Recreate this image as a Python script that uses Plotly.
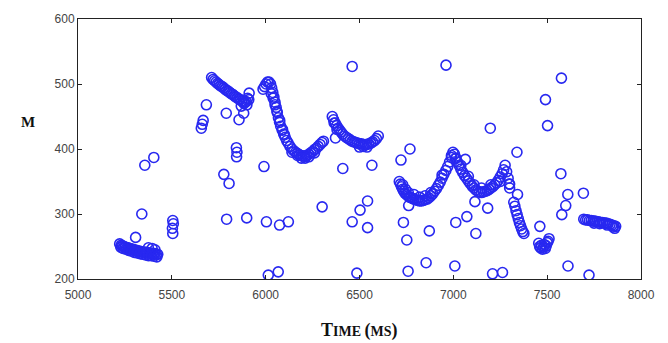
import plotly.graph_objects as go

# ---- data ----
cluster_a_x = [5222, 5230, 5238, 5245, 5252, 5260, 5268, 5275, 5282, 5290, 5298, 5305, 5312, 5320,
               5328, 5335, 5342, 5350, 5358, 5365, 5372, 5380, 5388, 5395, 5402, 5410, 5418, 5425,
               5228, 5240, 5255, 5270, 5285, 5300, 5315, 5330, 5345, 5360, 5375, 5390, 5405, 5420,
               5375, 5395, 5410]
cluster_a_y = [254, 252, 251, 250, 249, 248, 248, 247, 246, 246, 245, 244, 244, 243,
               243, 242, 242, 241, 241, 241, 240, 240, 240, 239, 239, 239, 238, 238,
               249, 247, 246, 244, 243, 241, 240, 239, 238, 237, 236, 236, 235, 234,
               248, 247, 245]

curve_b_x = [5712, 5720, 5728, 5736, 5744, 5752, 5760, 5768, 5776, 5784, 5792, 5800, 5808, 5816,
             5824, 5832, 5840, 5848, 5856, 5864, 5872, 5880, 5888, 5896, 5904, 5912,
             5870, 5885, 5900, 5910]
curve_b_y = [510, 507, 505, 503, 501, 499, 497, 496, 494, 492, 490, 489, 487, 485,
             484, 482, 480, 479, 477, 476, 474, 473, 472, 473, 478, 486,
             466, 470, 468, 476]

curve_c_x = [5986, 5994, 6002, 6010, 6018, 6026, 6032, 6038, 6044, 6050, 6056, 6062, 6068, 6074,
             6080, 6088, 6096, 6104, 6112, 6120, 6130, 6140, 6150, 6160, 6170, 6180, 6190, 6200,
             6210, 6220, 6230, 6240, 6250, 6260, 6270, 6280, 6290, 6300, 6308,
             6030, 6040, 6050, 6060, 6075, 6090, 6100, 6140, 6170, 6190, 6210, 6230, 6260]
curve_c_y = [492, 496, 500, 503, 503, 500, 494, 487, 480, 472, 464, 456, 448, 441,
             435, 429, 423, 418, 413, 409, 404, 400, 397, 395, 393, 391, 390, 389,
             389, 390, 392, 394, 396, 399, 401, 404, 407, 410, 412,
             485, 478, 468, 458, 444, 430, 422, 395, 390, 386, 386, 388, 394]

curve_d_x = [6355, 6362, 6370, 6378, 6386, 6394, 6402, 6410, 6420, 6430, 6440, 6450, 6460, 6470,
             6480, 6490, 6500, 6510, 6520, 6530, 6540, 6550, 6560, 6570, 6580, 6590, 6600,
             6365, 6380, 6500, 6520, 6540]
curve_d_y = [450, 445, 440, 436, 432, 429, 426, 423, 420, 418, 416, 414, 412, 411,
             410, 409, 408, 408, 407, 407, 407, 408, 409, 411, 413, 416, 420,
             440, 430, 403, 404, 403]

curve_e_x = [6712, 6718, 6724, 6730, 6736, 6742, 6750, 6758, 6766, 6774, 6782, 6790, 6800, 6810,
             6820, 6830, 6840, 6850, 6860, 6870, 6880, 6890, 6900, 6910, 6920, 6930, 6940, 6950,
             6960, 6970, 6980, 6990, 6998, 7006, 7014, 7022, 7030, 7040, 7050, 7060, 7070, 7080,
             7090, 7100, 7110, 7120, 7130, 7140, 7150, 7160, 7170, 7180, 7190, 7200, 7210, 7220,
             7230, 7240, 7250, 7260, 7268, 7276, 7284, 7292, 7300,
             6730, 6745, 6760, 6790, 6820, 6850, 6880, 6940, 6990, 7010, 7040, 7080, 7110, 7150,
             7200, 7250, 7300]
curve_e_y = [350, 346, 342, 338, 335, 332, 330, 328, 326, 325, 324, 323, 322, 321,
             320, 320, 321, 322, 323, 325, 328, 331, 335, 339, 344, 349, 355, 361,
             367, 373, 380, 387, 395, 392, 386, 380, 375, 369, 364, 359, 355, 351,
             347, 343, 340, 337, 335, 334, 333, 334, 335, 336, 338, 340, 342, 345,
             348, 352, 357, 362, 368, 375, 365, 355, 346,
             345, 338, 333, 330, 326, 328, 333, 360, 390, 385, 375, 358, 345, 340,
             345, 350, 340]

segment_f_x = [7322, 7328, 7334, 7340, 7346, 7352, 7358, 7364, 7370, 7376]
segment_f_y = [318, 312, 305, 299, 293, 287, 282, 277, 273, 270]

cluster_g_x = [7455, 7460, 7465, 7470, 7475, 7480, 7485, 7490, 7495, 7500, 7505, 7510]
cluster_g_y = [255, 250, 248, 252, 246, 249, 253, 247, 251, 256, 258, 262]

cluster_h_x = [7695, 7705, 7715, 7725, 7735, 7745, 7755, 7765, 7775, 7785, 7795, 7805, 7815, 7825,
               7835, 7845, 7855, 7865, 7750, 7780, 7820, 7850, 7860]
cluster_h_y = [292, 291, 291, 290, 290, 289, 289, 288, 288, 287, 287, 286, 286, 285,
               284, 283, 282, 281, 286, 285, 283, 280, 278]

scatter_x = [5307, 5340, 5356, 5404, 5505, 5508, 5503, 5505,
             5657, 5662, 5667, 5684,
             5790, 5858, 5883, 5844, 5847, 5845,
             5777, 5805, 5792, 5899,
             5991, 6004, 6074, 6121, 6014, 6067, 6301,
             6461, 6961, 7576, 7491, 7502, 7197, 7339,
             6372, 6411, 6566, 6461, 6503, 6543, 6543, 6486,
             6721, 6769, 6734, 6752, 6762, 6872, 6855, 6759, 7008, 7013, 7072, 7064, 7115, 7120,
             7183, 7209, 7262,
             7298, 7342, 7461, 7573, 7610, 7599, 7578, 7693, 7611, 7723]
scatter_y = [264, 300, 375, 387, 290, 285, 278, 270,
             432, 438, 444, 468,
             455, 445, 455, 402, 395, 388,
             361, 347, 292, 294,
             373, 288, 283, 288, 206, 211, 311,
             527, 529, 509, 476, 436, 432, 395,
             417, 370, 375, 288, 306, 320, 279, 209,
             383, 400, 287, 260, 313, 274, 225, 212, 220, 287, 296, 384, 319, 270,
             309, 208, 210,
             346, 330, 281, 362, 330, 313, 299, 332, 220, 206]

x_ticks = [5000, 5500, 6000, 6500, 7000, 7500, 8000]
y_ticks = [200, 300, 400, 500, 600]

all_x = (cluster_a_x + curve_b_x + curve_c_x + curve_d_x + curve_e_x + segment_f_x
         + cluster_g_x + cluster_h_x + scatter_x)
all_y = (cluster_a_y + curve_b_y + curve_c_y + curve_d_y + curve_e_y + segment_f_y
         + cluster_g_y + cluster_h_y + scatter_y)

fig = go.Figure()
fig.add_trace(go.Scatter(
    x=all_x, y=all_y, mode="markers",
    marker=dict(symbol="circle-open", size=10, color="rgb(40,40,240)",
                line=dict(width=1.6, color="rgb(40,40,240)")),
    showlegend=False, hoverinfo="skip"))

axis_common = dict(
    showgrid=False, zeroline=False, showline=True, linecolor="#222", linewidth=1,
    mirror="ticks", ticks="inside", ticklen=4, tickcolor="#222",
    tickfont=dict(family="Liberation Sans, Arial", size=12, color="#444"),
)
fig.update_xaxes(range=[5000, 8000], tickvals=x_ticks, ticklabelstandoff=5,
                 ticktext=[str(v) for v in x_ticks], **axis_common)
fig.update_yaxes(range=[200, 600], tickvals=y_ticks,
                 ticktext=[str(v) for v in y_ticks], **axis_common)

fig.add_annotation(text="<b>M</b>", xref="paper", yref="paper", x=-0.089, y=0.605,
                   xanchor="center", yanchor="middle",
                   showarrow=False, font=dict(family="Liberation Serif, Times New Roman",
                                              size=15, color="#111"))
fig.add_annotation(text="<b>T<span style='font-size:14px'>IME </span>(<span style='font-size:14px'>MS</span>)</b>",
                   xref="paper", yref="paper", x=0.5, y=-0.15, yanchor="top",
                   showarrow=False, font=dict(family="Liberation Serif, Times New Roman",
                                              size=18, color="#111"))

fig.update_layout(
    width=668, height=343,
    margin=dict(l=78, r=27, t=16, b=64),
    paper_bgcolor="white", plot_bgcolor="white",
)

fig.write_html("out.html")
